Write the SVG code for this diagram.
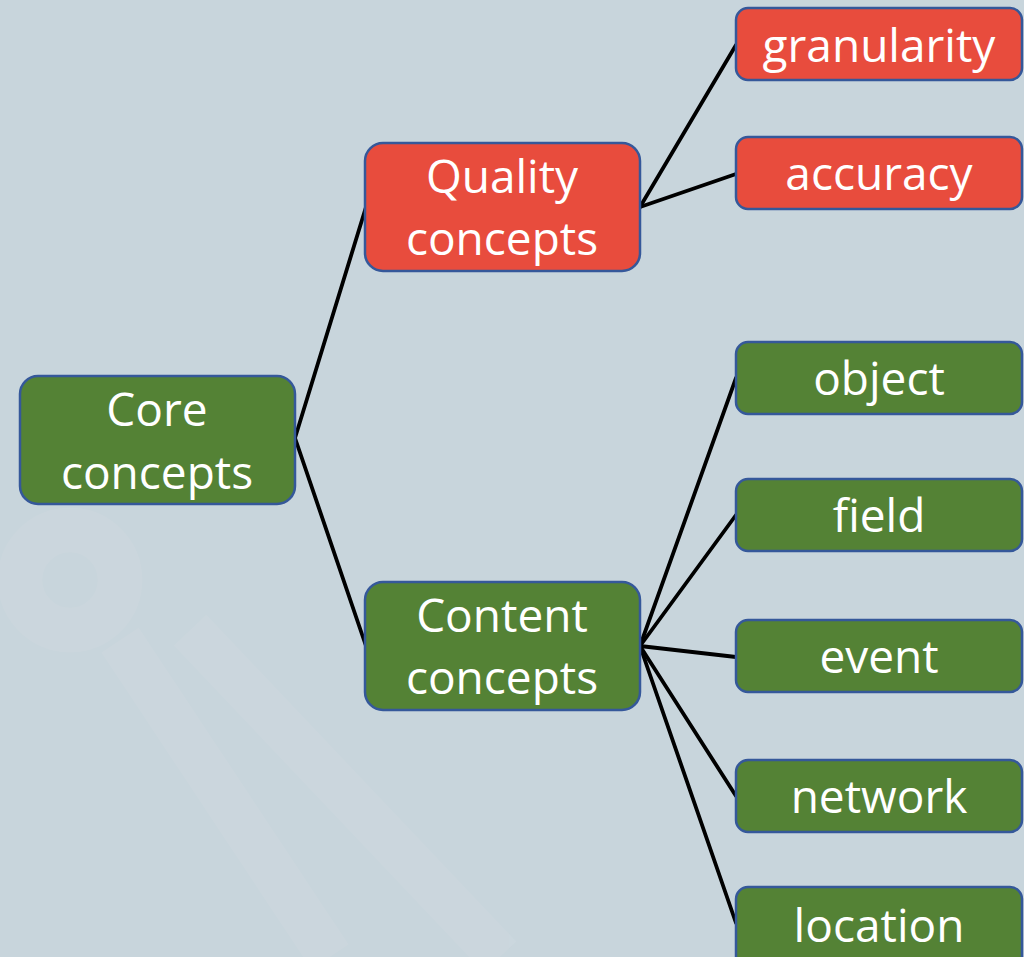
<svg xmlns="http://www.w3.org/2000/svg" width="1024" height="957" viewBox="0 0 1024 957">
  <defs>
    <style>
      .box { stroke: #35589a; stroke-width: 2.5; }
      .green { fill: #548235; }
      .red { fill: #e84c3d; }
      .label { font-family: "Open Sans", "Noto Sans", sans-serif; font-size: 46px; fill: #ffffff; text-anchor: middle; }
      .link { stroke: #000000; stroke-width: 3.8; fill: none; stroke-linecap: round; }
    </style>
  </defs>

  <!-- background with a faint watermark -->
  <rect x="0" y="0" width="1024" height="957" fill="#c8d5dc"/>
  <g fill="none" stroke="#cfd9df" stroke-width="45" opacity="0.45">
    <circle cx="70" cy="580" r="50"/>
    <path d="M120 640 L330 957"/>
    <path d="M190 630 L500 957"/>
  </g>

  <!-- connectors -->
  <g id="connectors">
    <line class="link" x1="295" y1="438" x2="366" y2="207"/>
    <line class="link" x1="295" y1="438" x2="366" y2="646"/>
    <line class="link" x1="640" y1="207" x2="736" y2="45"/>
    <line class="link" x1="640" y1="207" x2="736" y2="174"/>
    <line class="link" x1="640" y1="646" x2="736" y2="378"/>
    <line class="link" x1="640" y1="646" x2="736" y2="515"/>
    <line class="link" x1="640" y1="646" x2="736" y2="657"/>
    <line class="link" x1="640" y1="646" x2="736" y2="796"/>
    <line class="link" x1="640" y1="646" x2="736" y2="923"/>
  </g>

  <!-- nodes -->
  <g id="core">
    <rect class="box green" x="20" y="376" width="275" height="128" rx="18"/>
    <text class="label" x="157" y="426">Core</text>
    <text class="label" x="157" y="489">concepts</text>
  </g>
  <g id="quality">
    <rect class="box red" x="365" y="143" width="275" height="128" rx="18"/>
    <text class="label" x="502" y="193">Quality</text>
    <text class="label" x="502" y="255">concepts</text>
  </g>
  <g id="content">
    <rect class="box green" x="365" y="582" width="275" height="128" rx="18"/>
    <text class="label" x="502" y="632">Content</text>
    <text class="label" x="502" y="694">concepts</text>
  </g>
  <g id="granularity">
    <rect class="box red" x="736" y="8" width="286" height="72" rx="12"/>
    <text class="label" x="879" y="62">granularity</text>
  </g>
  <g id="accuracy">
    <rect class="box red" x="736" y="137" width="286" height="72" rx="12"/>
    <text class="label" x="879" y="190">accuracy</text>
  </g>
  <g id="object">
    <rect class="box green" x="736" y="342" width="286" height="72" rx="12"/>
    <text class="label" x="879" y="395">object</text>
  </g>
  <g id="field">
    <rect class="box green" x="736" y="479" width="286" height="72" rx="12"/>
    <text class="label" x="879" y="532">field</text>
  </g>
  <g id="event">
    <rect class="box green" x="736" y="620" width="286" height="72" rx="12"/>
    <text class="label" x="879" y="673">event</text>
  </g>
  <g id="network">
    <rect class="box green" x="736" y="760" width="286" height="72" rx="12"/>
    <text class="label" x="879" y="813">network</text>
  </g>
  <g id="location">
    <rect class="box green" x="736" y="887" width="286" height="90" rx="12"/>
    <text class="label" x="879" y="942">location</text>
  </g>
</svg>
